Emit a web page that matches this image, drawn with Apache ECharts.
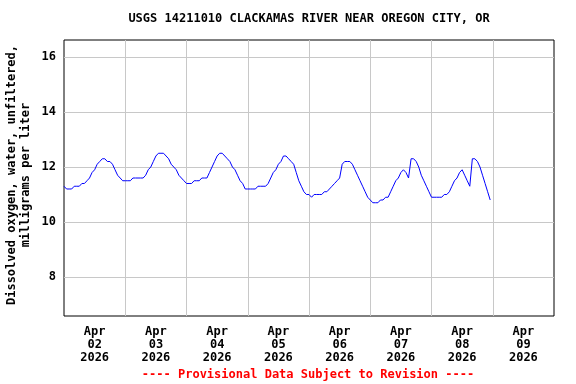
<!DOCTYPE html>
<html>
<head>
<meta charset="utf-8">
<script src="https://cdn.jsdelivr.net/npm/echarts@6/dist/echarts.min.js"></script>
<style>
  html, body { margin: 0; padding: 0; background: #fff; }
  #chart { width: 576px; height: 384px; }
</style>
</head>
<body>
<div id="chart"></div>
<script>
// Hourly dissolved oxygen values (mg/L), hour 0 = Apr 02 2026 00:00
const apr02 = [11.3, 11.2, 11.2, 11.2, 11.3, 11.3, 11.3, 11.4, 11.4, 11.5, 11.6, 11.8, 11.9, 12.1, 12.2, 12.3, 12.3, 12.2, 12.2, 12.1, 11.9, 11.7, 11.6, 11.5];
const apr03 = [11.5, 11.5, 11.5, 11.6, 11.6, 11.6, 11.6, 11.6, 11.7, 11.9, 12.0, 12.2, 12.4, 12.5, 12.5, 12.5, 12.4, 12.3, 12.1, 12.0, 11.9, 11.7, 11.6, 11.5];
const apr04 = [11.4, 11.4, 11.4, 11.5, 11.5, 11.5, 11.6, 11.6, 11.6, 11.8, 12.0, 12.2, 12.4, 12.5, 12.5, 12.4, 12.3, 12.2, 12.0, 11.9, 11.7, 11.5, 11.4, 11.2];
const apr05 = [11.2, 11.2, 11.2, 11.2, 11.3, 11.3, 11.3, 11.3, 11.4, 11.6, 11.8, 11.9, 12.1, 12.2, 12.4, 12.4, 12.3, 12.2, 12.1, 11.8, 11.5, 11.3, 11.1, 11.0];
const apr06 = [11.0, 10.9, 11.0, 11.0, 11.0, 11.0, 11.1, 11.1, 11.2, 11.3, 11.4, 11.5, 11.6, 12.1, 12.2, 12.2, 12.2, 12.1, 11.9, 11.7, 11.5, 11.3, 11.1, 10.9];
const apr07 = [10.8, 10.7, 10.7, 10.7, 10.8, 10.8, 10.9, 10.9, 11.1, 11.3, 11.5, 11.6, 11.8, 11.9, 11.8, 11.6, 12.3, 12.3, 12.2, 12.0, 11.7, 11.5, 11.3, 11.1];
const apr08 = [10.9, 10.9, 10.9, 10.9, 10.9, 11.0, 11.0, 11.1, 11.3, 11.5, 11.6, 11.8, 11.9, 11.7, 11.5, 11.3, 12.3, 12.3, 12.2, 12.0, 11.7, 11.4, 11.1, 10.8];

const dayLabels = ['Apr\n02\n2026', 'Apr\n03\n2026', 'Apr\n04\n2026', 'Apr\n05\n2026',
                   'Apr\n06\n2026', 'Apr\n07\n2026', 'Apr\n08\n2026', 'Apr\n09\n2026'];
const yTicks = [8, 10, 12, 14, 16];
const titleText = 'USGS 14211010 CLACKAMAS RIVER NEAR OREGON CITY, OR';
const footerText = '---- Provisional Data Subject to Revision ----';
const yName = 'Dissolved oxygen, water, unfiltered,\nmilligrams per liter';

const hourly = [].concat(apr02, apr03, apr04, apr05, apr06, apr07, apr08);
const seriesData = hourly.map((v, i) => [i, v]);

const FONT = '"DejaVu Sans Mono", "Liberation Mono", monospace';

const chart = echarts.init(document.getElementById('chart'), null, { renderer: 'canvas' });
chart.setOption({
  animation: false,
  backgroundColor: '#ffffff',
  grid: {
    left: 64, right: 22, top: 40, bottom: 68, outerBoundsMode: 'none', containLabel: false,
    show: true, borderColor: '#000000', borderWidth: 1, backgroundColor: 'transparent'
  },
  graphic: [
    {
      type: 'text', x: 309, y: 19, z: 10,
      style: { text: titleText, font: 'bold 12px ' + FONT, fill: '#000', textAlign: 'center', textVerticalAlign: 'middle' }
    },
    {
      type: 'text', x: 308, y: 375, z: 10,
      style: { text: footerText, font: 'bold 12px ' + FONT, fill: '#ff0000', textAlign: 'center', textVerticalAlign: 'middle' }
    },
    {
      type: 'text', x: 19, y: 175, z: 10, rotation: Math.PI / 2,
      style: { text: yName, font: 'bold 12px ' + FONT, fill: '#000', textAlign: 'center', textVerticalAlign: 'middle', lineHeight: 14 }
    }
  ],
  xAxis: [
    {
      type: 'value', min: 0, max: 192, interval: 24,
      axisLine: { show: false }, axisTick: { show: false }, axisLabel: { show: false },
      splitLine: { show: true, showMinLine: false, showMaxLine: false, lineStyle: { color: '#c8c8c8', width: 1 } }
    },
    {
      type: 'category', data: dayLabels, boundaryGap: true, position: 'bottom',
      axisLine: { show: false }, axisTick: { show: false }, splitLine: { show: false },
      axisLabel: {
        interval: 0, margin: 9, color: '#000', fontFamily: FONT, fontWeight: 'bold',
        fontSize: 12, lineHeight: 13
      }
    }
  ],
  yAxis: {
    type: 'value', min: 6.58, max: 16.62,
    axisLine: { show: false }, axisTick: { show: false },
    splitLine: { show: false },
    axisLabel: {
      customValues: yTicks, margin: 8, color: '#000', fontFamily: FONT, fontWeight: 'bold', fontSize: 12,
      formatter: v => (yTicks.indexOf(Math.round(v * 100) / 100) >= 0 ? String(v) : '')
    }
  },
  series: [
    {
      type: 'line', data: [], z: 1, silent: true,
      markLine: {
        silent: true, symbol: ['none', 'none'], animation: false,
        label: { show: false },
        lineStyle: { color: '#c8c8c8', type: 'solid', width: 1 },
        emphasis: { disabled: true },
        data: yTicks.map(v => ({ yAxis: v }))
      }
    },
    {
      type: 'line', data: seriesData, z: 5, showSymbol: false, symbol: 'none',
      lineStyle: { color: '#0000ff', width: 1 }, silent: true
    }
  ]
});
</script>
</body>
</html>
